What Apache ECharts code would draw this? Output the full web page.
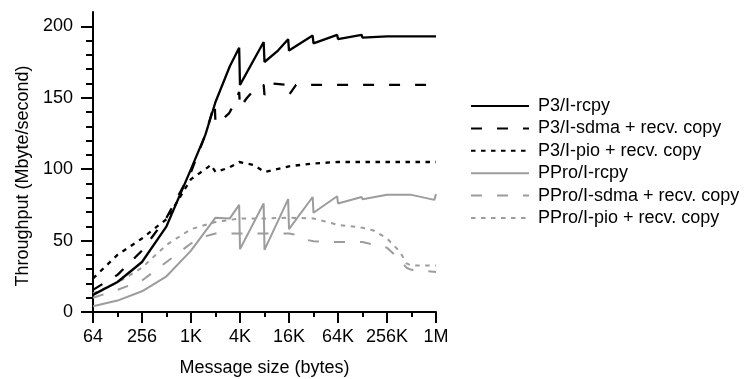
<!DOCTYPE html>
<html>
<head>
<meta charset="utf-8">
<script src="https://cdn.jsdelivr.net/npm/echarts@6/dist/echarts.min.js"></script>
<style>
  html, body { margin: 0; padding: 0; background: #fff; }
  #chart { width: 753px; height: 379px; }
</style>
</head>
<body>
<div id="chart"></div>
<script>
// Message sizes (bytes) and throughput (Mbyte/s) for each transfer method.
const p3Rcpy = [[64,12],[128,21],[256,35],[512,60],[1024,100],[1536,124],[2048,147],[3072,172],[4000,185],[4096,159],[8000,189],[8192,175],[12000,183],[16000,191],[16384,183],[32000,193.5],[32768,188],[64000,194],[65536,191],[128000,194],[131072,192],[262144,193],[524288,193],[1048576,193]];
const p3Sdma = [[64,15.5],[128,26],[256,43],[512,66],[1024,98],[1536,124],[2000,146],[2048,132],[2500,135],[3000,139],[3500,146],[4000,154],[4096,143],[5000,150],[6000,155],[8000,159],[8192,152],[10000,160],[16000,159],[16384,152],[20000,159],[32768,159],[65536,159],[131072,159],[262144,159],[524288,159],[1048576,159]];
const p3Pio = [[64,23.5],[128,40],[256,51.5],[512,65],[1024,93],[1536,100],[1800,103],[2048,98],[3000,101],[4000,105],[4096,104],[6000,103],[8192,98],[16384,102],[32768,104],[65536,105],[131072,105],[262144,105],[524288,105],[1048576,105]];
const pproRcpy = [[64,4],[128,8],[256,14.5],[512,25],[1024,43],[2048,66],[3072,65.5],[4000,75],[4096,44],[8000,76],[8192,43.5],[16000,79],[16384,58],[32000,80.5],[32768,69.5],[64000,81],[65536,76],[128000,80.5],[131072,79],[262144,82],[524288,82],[1000000,78.5],[1048576,82.5]];
const pproSdma = [[64,10],[128,15.5],[256,22],[512,35],[1024,48],[1536,53],[2048,55],[4096,55],[8192,55],[16384,55],[20000,54],[24576,51],[32768,49.5],[65536,49],[131072,49],[262144,45],[370000,37],[455000,31],[524288,29.5],[1048576,28]];
const pproPio = [[64,13],[128,20.5],[256,31],[512,47],[1024,58],[2048,63],[4096,65.5],[8192,65.5],[16384,66],[32768,65.5],[65536,61],[131072,59],[180000,57],[262144,51.5],[380000,42],[455000,34],[524288,32.5],[1048576,32.5]];

const seriesNames = ['P3/I-rcpy', 'P3/I-sdma + recv. copy', 'P3/I-pio + recv. copy',
                     'PPro/I-rcpy', 'PPro/I-sdma + recv. copy', 'PPro/I-pio + recv. copy'];
const xTickLabels = ['64', '256', '1K', '4K', '16K', '64K', '256K', '1M'];

const FONT = '"Liberation Sans", Arial, sans-serif';
const BLACK = '#000';
const GREY = '#9c9c9c';
const DASH = [11, 15];
const DOT = [4.5, 5.5];

function line(name, data, color, type, z, width) {
  return {
    name, type: 'line', data, xAxisIndex: 0, yAxisIndex: 0,
    symbol: 'none', showSymbol: false, z,
    lineStyle: { color, width: width || 2, type },
    itemStyle: { color },
    emphasis: { disabled: true }
  };
}

const chart = echarts.init(document.getElementById('chart'), null, { renderer: 'canvas' });
chart.setOption({
  animation: false,
  backgroundColor: '#fff',
  textStyle: { fontFamily: FONT },
  grid: { left: 93, right: 317, top: 12, bottom: 67, outerBoundsMode: 'none', containLabel: false },
  legend: {
    orient: 'vertical', left: 465, top: 92,
    itemWidth: 58, itemHeight: 14, itemGap: 4.4,
    itemStyle: { opacity: 0 },
    textStyle: { fontSize: 18, color: '#000', fontFamily: FONT, padding: [0, 0, 0, 4] },
    data: seriesNames
  },
  xAxis: [{
    type: 'log', logBase: 2, min: 64, max: 1048576, interval: 2,
    name: 'Message size (bytes)', nameLocation: 'middle', nameGap: 47,
    nameTextStyle: { fontSize: 18, color: '#000', fontFamily: FONT },
    axisLine: { lineStyle: { color: '#000', width: 2 } },
    axisTick: { length: 11, lineStyle: { color: '#000', width: 2 } },
    axisLabel: {
      fontSize: 18, color: '#000', fontFamily: FONT, margin: 16,
      formatter: v => xTickLabels[(Math.round(Math.log2(v)) - 6) / 2]
    },
    splitLine: { show: false },
    z: 10
  }, {
    // short ticks at every doubling of the message size (log2 scale 6..20)
    type: 'value', min: 6, max: 20, interval: 1,
    show: true, position: 'bottom', offset: 0,
    axisLine: { show: false, onZero: false },
    axisTick: { show: true, length: 5, lineStyle: { color: '#000', width: 2 } },
    axisLabel: { show: false },
    splitLine: { show: false },
    z: 9
  }],
  yAxis: {
    type: 'value', min: 0, max: 210, interval: 50,
    name: 'Throughput (Mbyte/second)', nameLocation: 'middle', nameGap: 61,
    nameTextStyle: { fontSize: 18, color: '#000', fontFamily: FONT, padding: [0, 28, 0, 0] },
    axisLine: { show: true, lineStyle: { color: '#000', width: 2 } },
    axisTick: { show: true, length: 12, customValues: [0, 50, 100, 150, 200], lineStyle: { color: '#000', width: 2 } },
    minorTick: { show: true, splitNumber: 5, length: 7, lineStyle: { color: '#000', width: 2 } },
    axisLabel: { fontSize: 18, color: '#000', fontFamily: FONT, margin: 20, customValues: [0, 50, 100, 150, 200] },
    splitLine: { show: false }
  },
  series: [
    line(seriesNames[0], p3Rcpy, BLACK, 'solid', 6, 2.3),
    line(seriesNames[1], p3Sdma, BLACK, DASH, 5, 2.3),
    line(seriesNames[2], p3Pio, BLACK, DOT, 4, 2.3),
    line(seriesNames[3], pproRcpy, GREY, 'solid', 3),
    line(seriesNames[4], pproSdma, GREY, DASH, 2),
    line(seriesNames[5], pproPio, GREY, DOT, 1)
  ]
});
</script>
</body>
</html>
